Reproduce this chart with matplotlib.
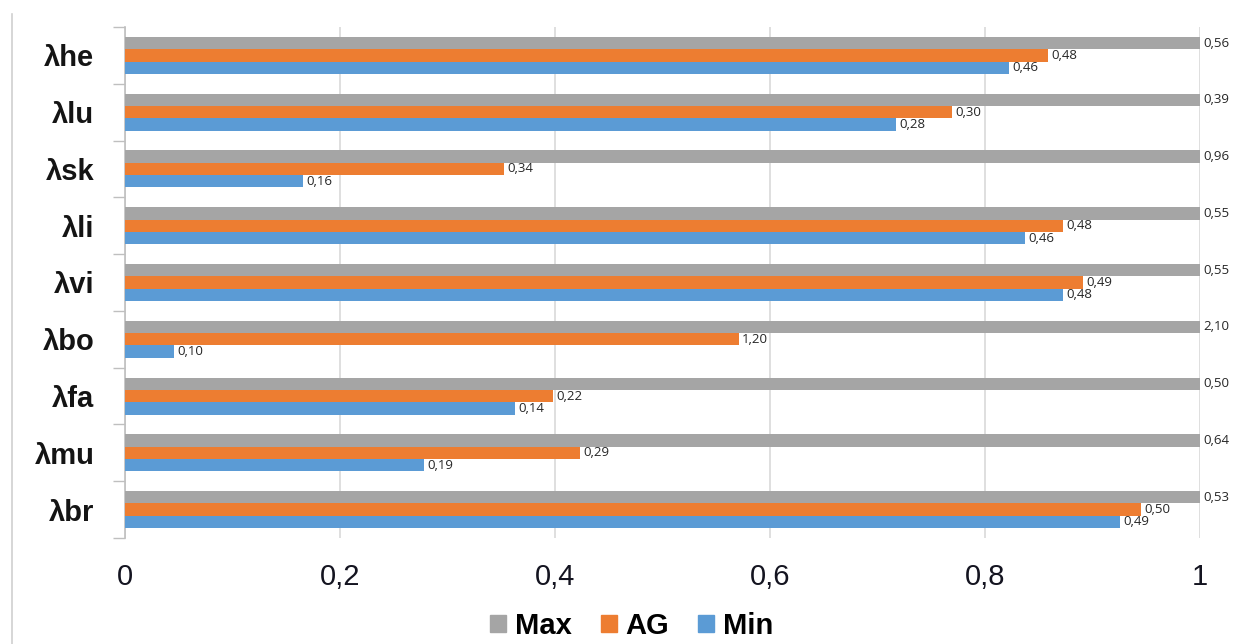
import matplotlib
matplotlib.use('Agg')
import matplotlib.pyplot as plt
from matplotlib.patches import Patch
from matplotlib.lines import Line2D
import numpy as np

# Categories (top to bottom)
categories = ['λhe', 'λlu', 'λsk', 'λli', 'λvi', 'λbo', 'λfa', 'λmu', 'λbr']

# Bar lengths as drawn (relative scale)
max_len = [1.0, 1.0, 1.0, 1.0, 1.0, 1.0, 1.0, 1.0, 1.0]
ag_len = [0.859, 0.769, 0.353, 0.873, 0.891, 0.571, 0.398, 0.423, 0.945]
min_len = [0.822, 0.717, 0.166, 0.837, 0.873, 0.046, 0.363, 0.278, 0.926]

# Data labels shown next to bars
max_lab = ['0,56', '0,39', '0,96', '0,55', '0,55', '2,10', '0,50', '0,64', '0,53']
ag_lab = ['0,48', '0,30', '0,34', '0,48', '0,49', '1,20', '0,22', '0,29', '0,50']
min_lab = ['0,46', '0,28', '0,16', '0,46', '0,48', '0,10', '0,14', '0,19', '0,49']

xticks = [0, 0.2, 0.4, 0.6, 0.8, 1.0]
xticklabels = ['0', '0,2', '0,4', '0,6', '0,8', '1']

c_max = '#A5A5A5'
c_ag = '#ED7D31'
c_min = '#5B9BD5'

fig = plt.figure(figsize=(12.36, 6.44), dpi=100)
ax = fig.add_axes([0.1011, 0.1646, 0.8698, 0.7935])

y = np.arange(len(categories))
h = 0.217

series = [(max_len, max_lab, c_max, -h), (ag_len, ag_lab, c_ag, 0), (min_len, min_lab, c_min, h)]
for lens, labs, col, off in series:
    ax.barh(y + off, lens, height=h, color=col, zorder=3)
    for yi, v, t in zip(y, lens, labs):
        ax.text(v + 0.003, yi + off, t, ha='left', va='center',
                fontsize=9.5, family='Open Sans', color='#262626', zorder=4)

ax.set_xlim(0, 1.0)
ax.set_ylim(len(categories) - 0.5, -0.5)

# Category ticks at group boundaries, labels at group centres
ax.set_yticks(np.arange(len(categories) + 1) - 0.5)
ax.set_yticklabels([])
ax.set_yticks(y, minor=True)
ax.set_yticklabels(categories, minor=True, fontsize=21, fontweight='bold',
                   family='Liberation Sans', color='#141414')
ax.tick_params(axis='y', which='major', length=9, color='#bfbfbf', width=1)
ax.tick_params(axis='y', which='minor', length=0, pad=22)

ax.set_xticks(xticks)
ax.set_xticklabels(xticklabels, fontsize=21, family='Liberation Sans', color='#141420')
ax.tick_params(axis='x', length=0, pad=18)

ax.grid(axis='x', color='#d9d9d9', linewidth=1.2, zorder=0)
for s in ['top', 'right', 'bottom']:
    ax.spines[s].set_visible(False)
ax.spines['left'].set_color('#bfbfbf')
ax.spines['left'].set_linewidth(1.2)

# Left border line of the chart area
fig.add_artist(Line2D([11.5 / 1236, 11.5 / 1236], [0, 1 - 14 / 644],
                      transform=fig.transFigure, color='#d0d0d0', linewidth=1.2))

handles = [Patch(color=c_max), Patch(color=c_ag), Patch(color=c_min)]
fig.legend(handles, ['Max', 'AG', 'Min'], loc='center', bbox_to_anchor=(0.511, 0.028),
           ncol=3, frameon=False, handlelength=0.55, handleheight=0.55,
           handletextpad=0.3, columnspacing=1.0,
           prop={'family': 'Liberation Sans', 'weight': 'bold', 'size': 21})

fig.savefig('out.png', dpi=100, facecolor='white')
